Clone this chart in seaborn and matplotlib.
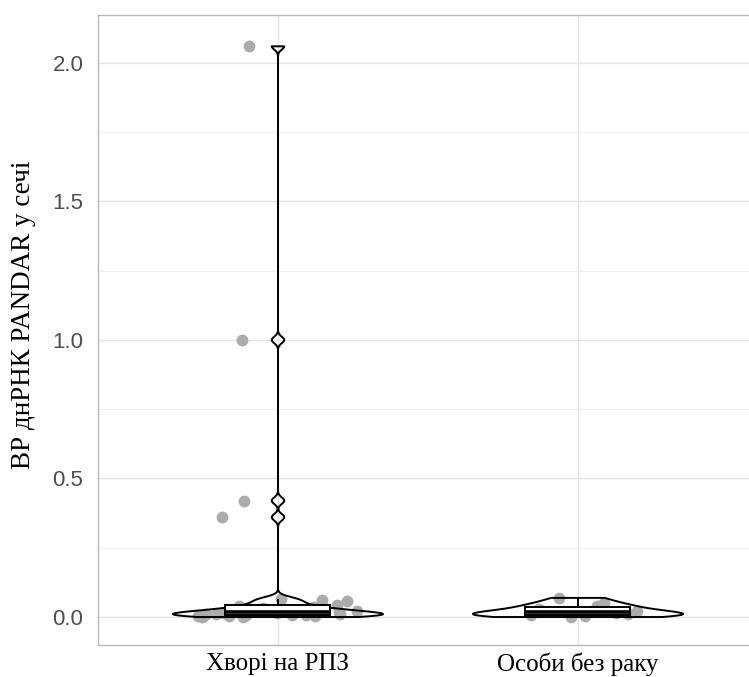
import numpy as np
import pandas as pd
import matplotlib
matplotlib.use("Agg")
import matplotlib.pyplot as plt
from matplotlib.ticker import MultipleLocator, FormatStrFormatter
import seaborn as sns

# Groups and measured relative expression (ВР) of PANDAR lncRNA in urine
categories = ["Хворі на РПЗ", "Особи без раку"]

patients_values = [
    0.0, 0.001, 0.002, 0.003, 0.004, 0.005, 0.006, 0.007, 0.008, 0.009,
    0.010, 0.011, 0.012, 0.014, 0.015, 0.017, 0.020, 0.022, 0.025, 0.028,
    0.032, 0.036, 0.040, 0.045, 0.058, 0.062, 0.065, 0.36, 0.42, 1.00, 2.06,
]
controls_values = [0.0, 0.003, 0.006, 0.010, 0.015, 0.020, 0.030, 0.040, 0.050, 0.069]

y_label = "ВР днРНК PANDAR у сечі"

df = pd.DataFrame({
    "group": [categories[0]] * len(patients_values) + [categories[1]] * len(controls_values),
    "value": patients_values + controls_values,
})


def nrd0_factor(vals):
    """Silverman's rule-of-thumb bandwidth, expressed as a factor of the sample sd."""
    v = np.asarray(vals, dtype=float)
    sd = v.std(ddof=1)
    iqr = np.subtract(*np.percentile(v, [75, 25]))
    lo = min(sd, iqr / 1.34)
    bw = 0.9 * lo * len(v) ** (-0.2)
    return bw / sd


sns.set_theme(style="white")
plt.rcParams["font.family"] = ["Liberation Sans", "DejaVu Sans"]

fig = plt.figure(figsize=(7.49, 6.77), dpi=100)
ax = fig.add_axes([98 / 749, 32 / 677, 660 / 749, 630 / 677])

# jittered raw observations
np.random.seed(21)
sns.stripplot(data=df, x="group", y="value", order=categories, jitter=0.28,
              color="#ababab", size=8.5, linewidth=0, ax=ax, zorder=2)

# violins, each with its own kernel bandwidth
for cat, vals in zip(categories, [patients_values, controls_values]):
    sub = df[df["group"] == cat]
    sns.violinplot(data=sub, x="group", y="value", order=categories,
                   cut=0, density_norm="width", width=0.70, inner=None,
                   fill=False, color="black", linecolor="black", linewidth=1.4,
                   bw_method=nrd0_factor(vals), gridsize=2000, ax=ax, zorder=3)

# boxplots without outliers
sns.boxplot(data=df, x="group", y="value", order=categories, width=0.35,
            showfliers=False, showcaps=False, color="white", linecolor="black",
            linewidth=1.4, medianprops={"linewidth": 2.6, "color": "black"},
            ax=ax, zorder=4)

ax.set_xlim(-0.6, 1.6)
ax.set_ylim(-0.101, 2.173)
ax.yaxis.set_major_locator(MultipleLocator(0.5))
ax.yaxis.set_minor_locator(MultipleLocator(0.25))
ax.yaxis.set_major_formatter(FormatStrFormatter("%.1f"))

ax.set_axisbelow(True)
ax.grid(which="major", axis="both", color="#e3e3e3", linewidth=1.0)
ax.grid(which="minor", axis="y", color="#eeeeee", linewidth=0.8)

for sp in ax.spines.values():
    sp.set_visible(True)
    sp.set_color("#b8b8b8")
    sp.set_linewidth(1.0)

ax.tick_params(axis="both", which="major", length=4.5, width=0.9, color="#b8b8b8")
ax.tick_params(axis="y", which="minor", length=0)
ax.tick_params(axis="y", labelsize=16, labelcolor="#4d4d4d", pad=6)
ax.tick_params(axis="x", labelsize=18, labelcolor="black", pad=1)
for lab in ax.get_xticklabels():
    lab.set_family(["Liberation Serif", "DejaVu Serif"])

ax.set_xlabel("")
ax.set_ylabel(y_label, fontsize=19.5, family=["Liberation Serif", "DejaVu Serif"],
              color="black")
ax.yaxis.set_label_coords(-0.094, 0.524)

fig.savefig("out.png", dpi=100)
